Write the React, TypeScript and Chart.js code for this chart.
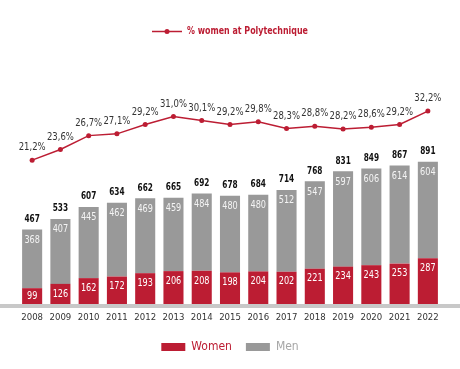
import React, { useEffect, useRef } from "react";
import { Chart, registerables } from "chart.js";

Chart.register(...registerables);

const years = ["2008", "2009", "2010", "2011", "2012", "2013", "2014", "2015", "2016", "2017", "2018", "2019", "2020", "2021", "2022"];
const women = [99, 126, 162, 172, 193, 206, 208, 198, 204, 202, 221, 234, 243, 253, 287];
const men = [368, 407, 445, 462, 469, 459, 484, 480, 480, 512, 547, 597, 606, 614, 604];
const totals = [467, 533, 607, 634, 662, 665, 692, 678, 684, 714, 768, 831, 849, 867, 891];
const pctWomen = [21.2, 23.6, 26.7, 27.1, 29.2, 31.0, 30.1, 29.2, 29.8, 28.3, 28.8, 28.2, 28.6, 29.2, 32.2];

const RED = "#bc1d33";
const GRAY = "#999999";
const FONT = "'DejaVu Sans Condensed', 'Liberation Sans Narrow', 'Liberation Sans', sans-serif";

const fmtPct = (v: number) => v.toFixed(1).replace(".", ",") + "%";

function drawText(ctx: CanvasRenderingContext2D, text: string, x: number, y: number, font: string, color: string, sx: number, align: CanvasTextAlign = "center") {
  ctx.save();
  ctx.font = font;
  ctx.fillStyle = color;
  ctx.textAlign = align;
  ctx.textBaseline = "middle";
  ctx.translate(x, y);
  ctx.scale(sx, 1);
  ctx.fillText(text, 0, 0);
  ctx.restore();
}

const labelsPlugin = {
  id: "customLabels",
  beforeDatasetsDraw(chart: any) {
    const { ctx, chartArea } = chart;
    ctx.save();
    ctx.fillStyle = "#c8c8c8";
    ctx.fillRect(0, chartArea.bottom, chart.width, 4);
    ctx.restore();
  },
  afterDatasetsDraw(chart: any) {
    const ctx = chart.ctx;
    const metaW = chart.getDatasetMeta(0);
    const metaM = chart.getDatasetMeta(1);
    const metaL = chart.getDatasetMeta(2);

    metaW.data.forEach((bar: any, i: number) => {
      const mid = (bar.y + bar.base) / 2;
      drawText(ctx, String(women[i]), bar.x, Math.min(bar.y + 10, mid), `10.5px ${FONT}`, "#ffffff", 0.86);
    });
    metaM.data.forEach((bar: any, i: number) => {
      drawText(ctx, String(men[i]), bar.x, bar.y + 10.5, `10.5px ${FONT}`, "#f4f4f4", 0.86);
      drawText(ctx, String(totals[i]), bar.x, bar.y - 10.5, `bold 10.5px ${FONT}`, "#111111", 0.78);
    });
    metaL.data.forEach((pt: any, i: number) => {
      drawText(ctx, fmtPct(pctWomen[i]), pt.x, pt.y - 12.5, `10.5px ${FONT}`, "#333333", 0.9);
    });

    // top legend for the line series
    const ly = 31.5;
    ctx.save();
    ctx.strokeStyle = RED;
    ctx.lineWidth = 1.5;
    ctx.beginPath();
    ctx.moveTo(152, ly);
    ctx.lineTo(182, ly);
    ctx.stroke();
    ctx.fillStyle = RED;
    ctx.beginPath();
    ctx.arc(167, ly, 2.5, 0, Math.PI * 2);
    ctx.fill();
    ctx.restore();
    drawText(ctx, "% women at Polytechnique", 187, ly, `bold 11px ${FONT}`, RED, 0.8, "left");
  },
};

export default function App() {
  const ref = useRef<HTMLCanvasElement | null>(null);

  useEffect(() => {
    if (!ref.current) return;
    const chart = new Chart(ref.current, {
      type: "bar",
      data: {
        labels: years,
        datasets: [
          {
            type: "bar",
            label: "Women",
            data: women,
            backgroundColor: RED,
            yAxisID: "y",
            stack: "s",
            categoryPercentage: 1,
            barPercentage: 0.71,
            borderWidth: 0,
          },
          {
            type: "bar",
            label: "Men",
            data: men,
            backgroundColor: GRAY,
            yAxisID: "y",
            stack: "s",
            categoryPercentage: 1,
            barPercentage: 0.71,
            borderWidth: 0,
          },
          {
            type: "line",
            label: "% women at Polytechnique",
            data: pctWomen,
            borderColor: RED,
            backgroundColor: RED,
            borderWidth: 1.5,
            pointRadius: 2.5,
            pointBackgroundColor: RED,
            pointBorderWidth: 0,
            yAxisID: "y2",
            tension: 0,
          } as any,
        ],
      },
      options: {
        responsive: false,
        animation: false,
        layout: { padding: { left: 18, right: 18, top: 60, bottom: 6 } },
        scales: {
          x: {
            stacked: true,
            grid: { display: false, drawTicks: false },
            border: { display: false },
            ticks: {
              color: "#333333",
              font: { family: FONT, size: 9.5 },
              padding: 8,
              maxRotation: 0,
              minRotation: 0,
              autoSkip: false,
            },
            afterFit: (axis: any) => {
              axis.height = 23;
            },
          },
          y: { stacked: true, display: false, min: 0, max: 1528 },
          y2: { display: false, min: -11.06, max: 43.66 },
        },
        plugins: {
          legend: {
            position: "bottom",
            labels: {
              boxWidth: 24,
              boxHeight: 8,
              padding: 14,
              font: { family: FONT, size: 12 },
              filter: (item: any) => item.datasetIndex !== 2,
              generateLabels: (c: any) => {
                const items = Chart.defaults.plugins.legend.labels.generateLabels(c);
                return items.map((it: any) => ({
                  ...it,
                  fontColor: it.datasetIndex === 0 ? RED : "#a6a6a6",
                  lineWidth: 0,
                }));
              },
            },
          },
          tooltip: { enabled: false },
        },
      },
      plugins: [labelsPlugin],
    });
    return () => chart.destroy();
  }, []);

  return (
    <div style={{ position: "absolute", left: 0, top: 0, width: 460, height: 369, background: "#fff" }}>
      <canvas ref={ref} width={460} height={369} style={{ display: "block" }} />
    </div>
  );
}
